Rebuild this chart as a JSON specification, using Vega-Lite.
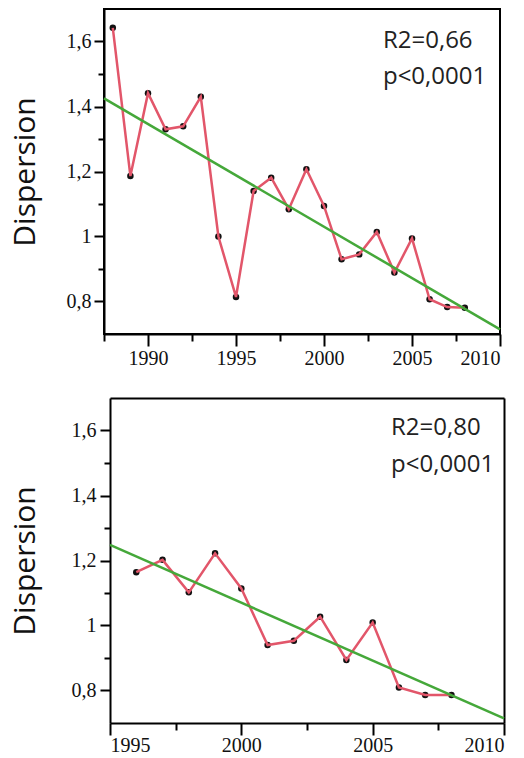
{
  "$schema": "https://vega.github.io/schema/vega-lite/v6.json",
  "padding": {"left": 9, "top": 8, "right": 10, "bottom": 2},
  "background": "white",
  "spacing": 29,
  "config": {
    "view": {"stroke": "black", "strokeWidth": 2},
    "axis": {
      "domainColor": "black", "domainWidth": 2, "tickColor": "black", "tickWidth": 2,
      "labelFont": "Liberation Sans Narrow", "labelFontSize": 20, "labelColor": "#111",
      "titleFont": "Open Sans", "titleFontSize": 30, "titleFontWeight": "normal", "titleColor": "#111",
      "grid": false
    }
  },
  "datasets": {
    "top": [
      {"year": 1988, "value": 1.642}, {"year": 1989, "value": 1.186}, {"year": 1990, "value": 1.441},
      {"year": 1991, "value": 1.330}, {"year": 1992, "value": 1.339}, {"year": 1993, "value": 1.430},
      {"year": 1994, "value": 1.000}, {"year": 1995, "value": 0.814}, {"year": 1996, "value": 1.140},
      {"year": 1997, "value": 1.181}, {"year": 1998, "value": 1.084}, {"year": 1999, "value": 1.207},
      {"year": 2000, "value": 1.094}, {"year": 2001, "value": 0.930}, {"year": 2002, "value": 0.945},
      {"year": 2003, "value": 1.014}, {"year": 2004, "value": 0.889}, {"year": 2005, "value": 0.994},
      {"year": 2006, "value": 0.807}, {"year": 2007, "value": 0.783}, {"year": 2008, "value": 0.781}
    ],
    "topFit": [{"year": 1987.5, "value": 1.425}, {"year": 2010, "value": 0.714}],
    "topText": [{"year": 2003.35, "value": 1.581, "label": "R2=0,66"}, {"year": 2003.35, "value": 1.469, "label": "p<0,0001"}],
    "bottom": [
      {"year": 1996, "value": 1.164}, {"year": 1997, "value": 1.202}, {"year": 1998, "value": 1.102},
      {"year": 1999, "value": 1.222}, {"year": 2000, "value": 1.114}, {"year": 2001, "value": 0.940},
      {"year": 2002, "value": 0.953}, {"year": 2003, "value": 1.027}, {"year": 2004, "value": 0.894},
      {"year": 2005, "value": 1.009}, {"year": 2006, "value": 0.809}, {"year": 2007, "value": 0.786},
      {"year": 2008, "value": 0.786}
    ],
    "bottomFit": [{"year": 1995, "value": 1.248}, {"year": 2010, "value": 0.714}],
    "bottomText": [{"year": 2005.7, "value": 1.586, "label": "R2=0,80"}, {"year": 2005.7, "value": 1.473, "label": "p<0,0001"}]
  },
  "vconcat": [
    {
      "width": 396, "height": 325,
      "encoding": {
        "x": {"field": "year", "type": "quantitative", "scale": {"domain": [1987.5, 2010], "nice": false, "zero": false},
          "axis": {"title": null, "values": [1987.5, 1990, 1992.5, 1995, 1997.5, 2000, 2002.5, 2005, 2007.5, 2010],
            "labelExpr": "datum.value % 5 == 0 ? format(datum.value, 'd') : ''",
            "tickSize": {"condition": {"test": "datum.value % 5 == 0", "value": 12}, "value": 7},
            "labelPadding": 2}},
        "y": {"field": "value", "type": "quantitative", "scale": {"domain": [0.7, 1.7], "nice": false, "zero": false},
          "axis": {"title": "Dispersion", "values": [0.8, 0.9, 1.0, 1.1, 1.2, 1.3, 1.4, 1.5, 1.6],
            "labelExpr": "round(datum.value*10) % 2 == 0 ? replace(format(datum.value, '.1~f'), '.', ',') : ''",
            "tickSize": {"condition": {"test": "round(datum.value*10) % 2 == 0", "value": 10}, "value": 6},
            "labelPadding": 3, "titlePadding": 26}}
      },
      "layer": [
        {"data": {"name": "top"}, "mark": {"type": "point", "filled": true, "color": "#111", "size": 42, "opacity": 1}},
        {"data": {"name": "top"}, "mark": {"type": "line", "color": "#e2566a", "strokeWidth": 2.5}},
        {"data": {"name": "topFit"}, "mark": {"type": "line", "color": "#45a83a", "strokeWidth": 2.5}},
        {"data": {"name": "topText"}, "mark": {"type": "text", "align": "left", "baseline": "alphabetic", "font": "Open Sans", "fontSize": 24, "color": "#222"},
          "encoding": {"text": {"field": "label"}}}
      ]
    },
    {
      "width": 400, "height": 325,
      "view": {"stroke": null},
      "resolve": {"axis": {"x": "independent", "y": "independent"}},
      "layer": [
        {"data": {"name": "bottom"}, "mark": {"type": "point", "filled": true, "color": "#111", "size": 42, "opacity": 1},
          "encoding": {
            "x": {"field": "year", "type": "quantitative", "scale": {"domain": [1995, 2010], "nice": false, "zero": false, "range": [6, 400]},
              "axis": {"orient": "bottom", "title": null, "values": [1995, 1997.5, 2000, 2002.5, 2005, 2007.5, 2010],
                "labelExpr": "datum.value % 5 == 0 ? format(datum.value, 'd') : ''",
                "tickSize": {"condition": {"test": "datum.value % 5 == 0", "value": 12}, "value": 7},
                "labelPadding": 0}},
            "y": {"field": "value", "type": "quantitative", "scale": {"domain": [0.7, 1.7], "nice": false, "zero": false},
              "axis": {"orient": "left", "title": "Dispersion", "values": [0.8, 0.9, 1.0, 1.1, 1.2, 1.3, 1.4, 1.5, 1.6], "offset": -6,
                "labelExpr": "round(datum.value*10) % 2 == 0 ? replace(format(datum.value, '.1~f'), '.', ',') : ''",
                "tickSize": {"condition": {"test": "round(datum.value*10) % 2 == 0", "value": 10}, "value": 6},
                "labelPadding": 4, "titlePadding": 31}}
          }},
        {"data": {"name": "bottom"}, "mark": {"type": "line", "color": "#e2566a", "strokeWidth": 2.5},
          "encoding": {
            "x": {"field": "year", "type": "quantitative", "scale": {"domain": [1995, 2010], "nice": false, "zero": false, "range": [6, 400]}, "axis": null},
            "y": {"field": "value", "type": "quantitative", "scale": {"domain": [0.7, 1.7], "nice": false, "zero": false}, "axis": null}
          }},
        {"data": {"name": "bottomFit"}, "mark": {"type": "line", "color": "#45a83a", "strokeWidth": 2.5},
          "encoding": {
            "x": {"field": "year", "type": "quantitative", "scale": {"domain": [1995, 2010], "nice": false, "zero": false, "range": [6, 400]}, "axis": null},
            "y": {"field": "value", "type": "quantitative", "scale": {"domain": [0.7, 1.7], "nice": false, "zero": false}, "axis": null}
          }},
        {"data": {"name": "bottomText"}, "mark": {"type": "text", "align": "left", "baseline": "alphabetic", "font": "Open Sans", "fontSize": 24, "color": "#222"},
          "encoding": {
            "x": {"field": "year", "type": "quantitative", "scale": {"domain": [1995, 2010], "nice": false, "zero": false, "range": [6, 400]}, "axis": null},
            "y": {"field": "value", "type": "quantitative", "scale": {"domain": [0.7, 1.7], "nice": false, "zero": false}, "axis": null},
            "text": {"field": "label"}
          }},
        {"data": {"name": "bottomFit"}, "mark": {"type": "line", "opacity": 0},
          "encoding": {
            "x": {"field": "year", "type": "quantitative", "scale": {"domain": [1995, 2010], "nice": false, "zero": false, "range": [6, 400]},
              "axis": {"orient": "top", "title": null, "labels": false, "ticks": false, "domain": true}},
            "y": {"field": "value", "type": "quantitative", "scale": {"domain": [0.7, 1.7], "nice": false, "zero": false},
              "axis": {"orient": "right", "title": null, "labels": false, "ticks": false, "domain": true}}
          }}
      ]
    }
  ]
}
